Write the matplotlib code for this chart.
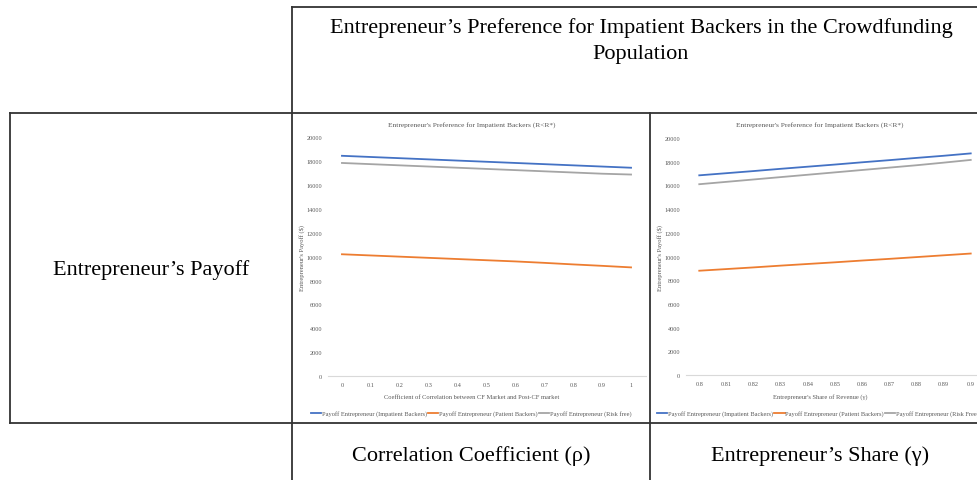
import matplotlib
matplotlib.use("Agg")
import matplotlib.pyplot as plt
from matplotlib.lines import Line2D

W, H = 977, 481
SERIF = "Liberation Serif"

# ---- data ------------------------------------------------------------------
rho = [0, 0.1, 0.2, 0.3, 0.4, 0.5, 0.6, 0.7, 0.8, 0.9, 1]
rho_labels = ["0", "0.1", "0.2", "0.3", "0.4", "0.5", "0.6", "0.7", "0.8", "0.9", "1"]
rho_impatient = [18450, 18350, 18250, 18150, 18050, 17950, 17850, 17750, 17650, 17550, 17450]
rho_patient = [10200, 10100, 10000, 9900, 9800, 9700, 9600, 9480, 9350, 9230, 9100]
rho_riskfree = [17850, 17750, 17650, 17550, 17450, 17350, 17250, 17150, 17050, 16950, 16880]

gamma = [0.80, 0.81, 0.82, 0.83, 0.84, 0.85, 0.86, 0.87, 0.88, 0.89, 0.90]
gamma_labels = ["0.8", "0.81", "0.82", "0.83", "0.84", "0.85", "0.86", "0.87", "0.88", "0.89", "0.9"]
gamma_impatient = [16850, 17030, 17210, 17400, 17580, 17760, 17950, 18130, 18320, 18500, 18700]
gamma_patient = [8800, 8940, 9080, 9230, 9370, 9510, 9660, 9800, 9950, 10100, 10250]
gamma_riskfree = [16100, 16300, 16500, 16700, 16900, 17100, 17300, 17500, 17700, 17920, 18150]

series_names = ["Payoff Entrepreneur (Impatient Backers)",
                "Payoff Entrepreneur (Patient Backers)",
                "Payoff Entrepreneur (Risk free)"]
series_names_r = ["Payoff Entrepreneur (Impatient Backers)",
                  "Payoff Entrepreneur (Patient Backers)",
                  "Payoff Entrepreneur (Risk Free)"]
colors = ["#4472C4", "#ED7D31", "#A5A5A5"]
yticks = [0, 2000, 4000, 6000, 8000, 10000, 12000, 14000, 16000, 18000, 20000]

fig = plt.figure(figsize=(W / 100, H / 100), dpi=100)


def fx(x):
    return x / W


def fy(y):
    return 1 - y / H


def hline(y, x0, x1):
    fig.add_artist(Line2D([fx(x0), fx(x1)], [fy(y), fy(y)], color="#333333", lw=1.3))


def vline(x, y0, y1):
    fig.add_artist(Line2D([fx(x), fx(x)], [fy(y0), fy(y1)], color="#333333", lw=1.3))


# table grid
hline(8, 292, 977)
hline(114, 10, 977)
hline(424, 10, 977)
vline(292, 8, 481)
vline(10, 114, 424)
vline(650, 114, 481)

# table text
BIG = 16
fig.text(fx(641), fy(28), "Entrepreneur’s Preference for Impatient Backers in the Crowdfunding",
         ha="center", va="center", family=SERIF, fontsize=BIG)
fig.text(fx(641), fy(55), "Population", ha="center", va="center", family=SERIF, fontsize=BIG)
fig.text(fx(151), fy(270), "Entrepreneur’s Payoff", ha="center", va="center",
         family=SERIF, fontsize=BIG)
fig.text(fx(471), fy(456), "Correlation Coefficient (ρ)", ha="center", va="center",
         family=SERIF, fontsize=BIG)
fig.text(fx(820), fy(456), "Entrepreneur’s Share (γ)", ha="center", va="center",
         family=SERIF, fontsize=BIG)


def panel(x0, x1, y0, y1, xs, xlabels, data, names, xlabel, title_x, ylabel_x, legend_x):
    step = (xs[-1] - xs[0]) / (len(xs) - 1)
    ax = fig.add_axes([fx(x0), fy(y1), fx(x1 - x0), fy(y0) - fy(y1)])
    for vals, c, n in zip(data, colors, names):
        ax.plot(xs, vals, color=c, lw=1.3, label=n)
    ax.set_xlim(xs[0] - step / 2, xs[-1] + step / 2)
    ax.set_ylim(0, 20000)
    ax.set_xticks(xs)
    ax.set_xticklabels(xlabels)
    ax.set_yticks(yticks)
    ax.set_yticklabels([str(v) for v in yticks])
    for s in ["top", "right", "left"]:
        ax.spines[s].set_visible(False)
    ax.spines["bottom"].set_color("#d9d9d9")
    ax.tick_params(length=0, labelsize=4.5, colors="#595959", pad=4)
    for lab in ax.get_xticklabels() + ax.get_yticklabels():
        lab.set_family(SERIF)
    fig.text(fx(title_x), fy(125.5), "Entrepreneur's Preference for Impatient Backers (R<R*)",
             ha="center", va="center", family=SERIF, fontsize=5.3, color="#595959")
    fig.text(fx(ylabel_x), fy(258), "Entrepreneur's Payoff ($)", rotation=90,
             ha="center", va="center", family=SERIF, fontsize=4.7, color="#595959")
    fig.text(fx(title_x), fy(397.5), xlabel, ha="center", va="center",
             family=SERIF, fontsize=4.7, color="#595959")
    leg = fig.legend(*ax.get_legend_handles_labels(), loc="center",
                     bbox_to_anchor=(fx(legend_x), fy(414.5)), ncol=3, frameon=False,
                     prop={"family": SERIF, "size": 4.6}, handlelength=1.6,
                     handletextpad=0.1, columnspacing=0.2, borderpad=0)
    for t in leg.get_texts():
        t.set_color("#595959")
    return ax


panel(327.5, 645.5, 138.3, 377, rho, rho_labels,
      [rho_impatient, rho_patient, rho_riskfree], series_names,
      "Coefficient of Correlation between CF Market and Post-CF market",
      472, 302, 471)
panel(685.7, 984.3, 139, 376, gamma, gamma_labels,
      [gamma_impatient, gamma_patient, gamma_riskfree], series_names_r,
      "Entrepreneur's Share of Revenue (γ)",
      820, 660, 818)

fig.savefig("out.png", dpi=100)
